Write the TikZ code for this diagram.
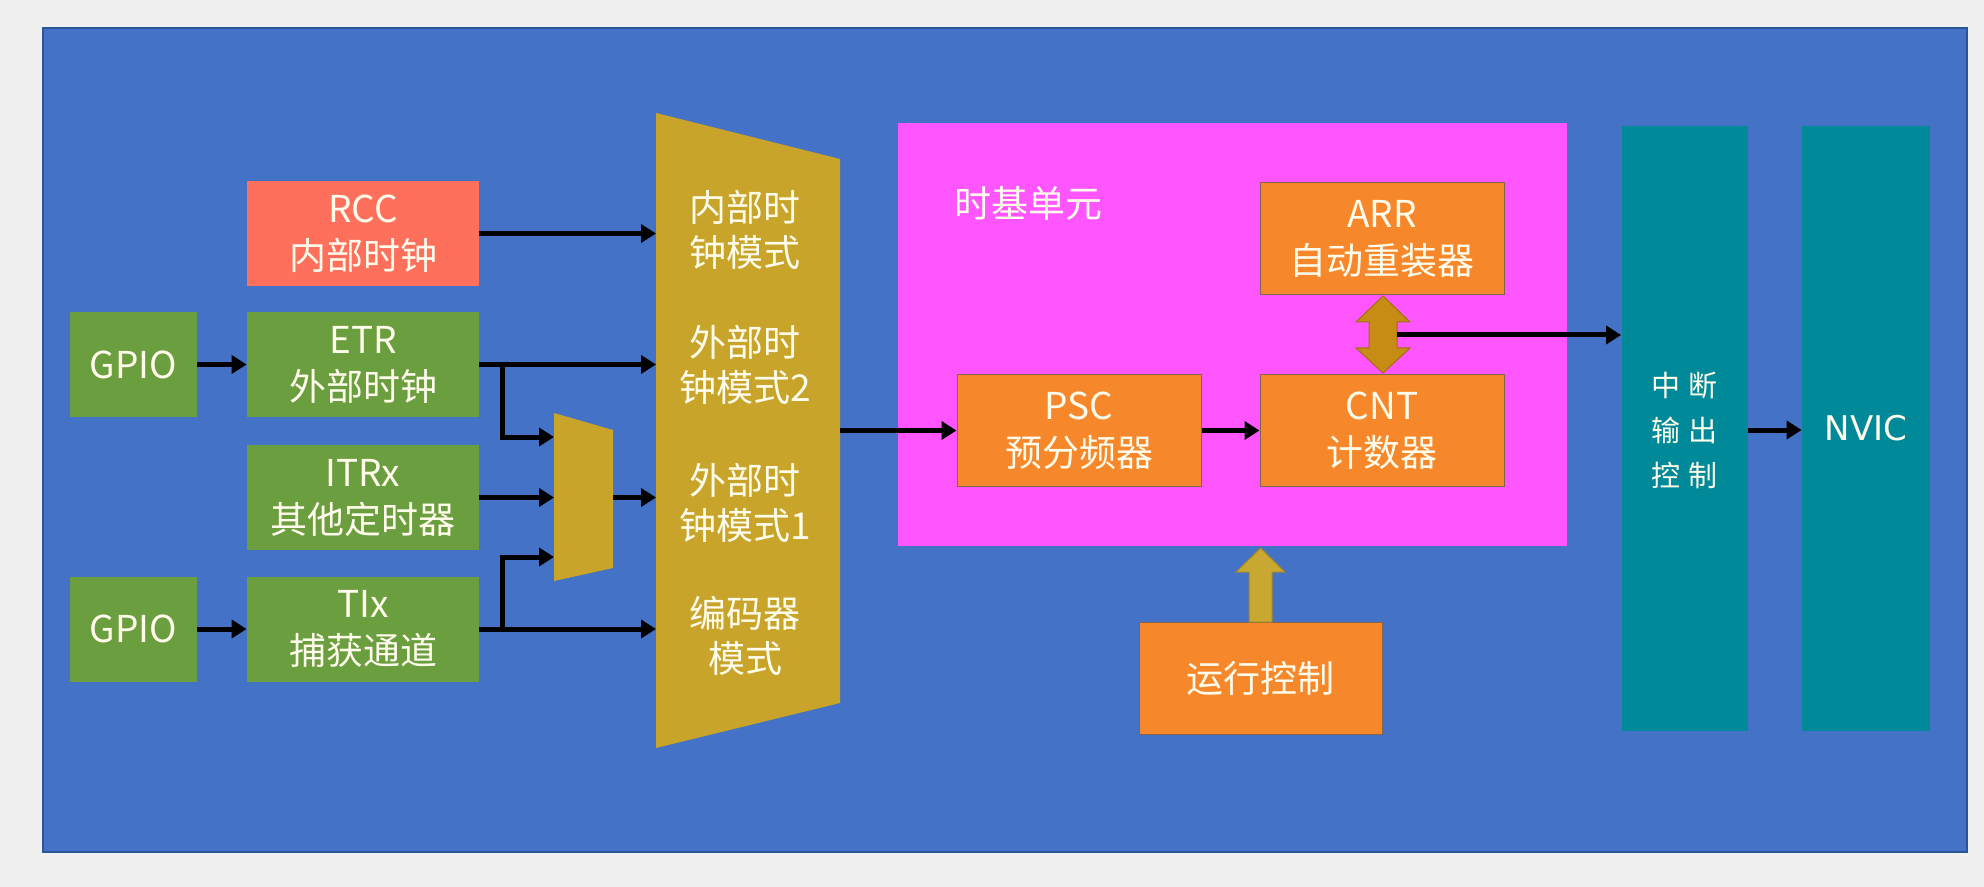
\documentclass[tikz,border=0pt]{standalone}
\usepackage{fontspec}
\setmainfont{Noto Sans CJK SC}
\newfontfamily\nvicfont{DejaVu Sans}
\usetikzlibrary{arrows.meta}
\definecolor{pagegray}{RGB}{240,240,240}
\definecolor{bgblue}{RGB}{67,114,198}
\definecolor{bgedge}{RGB}{45,85,150}
\definecolor{rccred}{RGB}{255,112,92}
\definecolor{boxgreen}{RGB}{106,158,63}
\definecolor{muxgold}{RGB}{200,164,42}
\definecolor{magbox}{RGB}{255,85,255}
\definecolor{orangebox}{RGB}{246,135,42}
\definecolor{orangeedge}{RGB}{130,100,70}
\definecolor{tealbox}{RGB}{0,137,152}
\definecolor{darkgold}{RGB}{199,140,20}
\definecolor{upgold}{RGB}{201,168,50}
\definecolor{txt}{RGB}{255,252,236}
\tikzset{
  basebox/.style={rectangle, inner sep=0pt, align=center, text=txt,
    font=\fontsize{18.5pt}{23.5pt}\selectfont},
  widebox/.style={basebox, minimum width=116pt, minimum height=52.5pt},
  gpiobox/.style={basebox, fill=boxgreen, minimum width=63.5pt, minimum height=52.5pt},
  greenbox/.style={widebox, fill=boxgreen},
  redbox/.style={widebox, fill=rccred},
  orbox/.style={basebox, fill=orangebox, draw=orangeedge, line width=0.5pt,
    minimum width=122pt, minimum height=56pt},
  tealcol/.style={basebox, fill=tealbox, minimum width=63pt, minimum height=302.5pt},
  muxtext/.style={align=center, text=txt, inner sep=0pt,
    font=\fontsize{18.5pt}{22.5pt}\selectfont},
  arr/.style={draw=black, line width=2.5pt, -{Triangle[length=7.5pt,width=9pt]}},
  plainline/.style={draw=black, line width=2.5pt},
}
\begin{document}
\begin{tikzpicture}[x=0.5pt,y=-0.5pt]
\useasboundingbox (0,0) rectangle (1984,887);
\fill[pagegray] (0,0) rectangle (1984,887);
\filldraw[fill=bgblue, draw=bgedge, line width=0.8pt] (43,28) rectangle (1967,852);

% left boxes
\node[redbox] (rcc) at (363,233.5) {RCC\\内部时钟};
\node[greenbox] (etr) at (363,364.5) {ETR\\外部时钟};
\node[greenbox] (itrx) at (363,497.5) {ITRx\\其他定时器};
\node[greenbox] (tix) at (363,629) {TIx\\捕获通道};
\node[gpiobox] (gpioa) at (133.5,364.5) {GPIO};
\node[gpiobox] (gpiob) at (133.5,629) {GPIO};

% small mux
\fill[muxgold] (554,413) -- (613,430) -- (613,568) -- (554,581) -- cycle;
\coordinate (sm1) at (554,437);
\coordinate (sm2) at (554,497.5);
\coordinate (sm3) at (554,557);
\coordinate (smout) at (613,497.5);

% big mux
\fill[muxgold] (656,113) -- (840,159) -- (840,703) -- (656,748) -- cycle;
\coordinate (bm1) at (656,233.5);
\coordinate (bm2) at (656,364.5);
\coordinate (bm3) at (656,497.5);
\coordinate (bm4) at (656,629);
\coordinate (bmout) at (840,430.5);
\node[muxtext] (m1) at (745,229.5) {内部时\\钟模式};
\node[muxtext] (m2) at (745,364.5) {外部时\\钟模式2};
\node[muxtext] (m3) at (745,502.5) {外部时\\钟模式1};
\node[muxtext] (m4) at (745,635.5) {编码器\\模式};

% time base unit
\node[basebox, fill=magbox, minimum width=334.5pt, minimum height=211.5pt] (tbu) at (1232.5,334.5) {};
\node[anchor=west, text=txt, inner sep=0pt, font=\fontsize{18.5pt}{22pt}\selectfont] (tbul) at (954,203) {时基单元};
\node[orbox] (arr) at (1382,239) {ARR\\自动重装器};
\node[orbox] (psc) at (1079,430.5) {PSC\\预分频器};
\node[orbox] (cnt) at (1382,430.5) {CNT\\计数器};
\node[orbox, minimum width=121.5pt] (run) at (1260.5,678) {运行控制};

% right columns
\node[tealcol] (intc) at (1684.5,428.5) {};
\node[text=txt, align=center, inner sep=0pt, font=\fontsize{14.5pt}{22.5pt}\selectfont] (intl) at (1684,430) {中\hspace{4pt}断\\输\hspace{4pt}出\\控\hspace{4pt}制};
\node[tealcol, minimum width=64pt, font=\nvicfont\fontsize{17pt}{20pt}\selectfont] (nvic) at (1866,428.5) {NVIC};

% connectors
\draw[arr] (gpioa.east) -- (etr.west);
\draw[arr] (gpiob.east) -- (tix.west);
\draw[arr] (rcc.east) -- (bm1);
\draw[arr] (etr.east) -- (bm2);
\coordinate (j1) at (502,364.5);
\draw[arr] (j1) |- (sm1);
\draw[arr] (itrx.east) -- (sm2);
\draw[arr] (tix.east) -- (bm4);
\coordinate (j2) at (502,629);
\draw[arr] (j2) |- (sm3);
\draw[arr] (smout) -- (bm3);
\draw[arr] (bmout) -- (psc.west);
\draw[arr] (psc.east) -- (cnt.west);

% double arrow ARR <-> CNT
\filldraw[fill=darkgold, draw=darkgold!80!black, line width=0.5pt]
  (1383,296) -- (1410,322) -- (1397,322) -- (1397,348) -- (1410,348) -- (1383,373)
  -- (1356,348) -- (1369,348) -- (1369,322) -- (1356,322) -- cycle;
\coordinate (da) at (1397,335);
\draw[arr] (da) -- (da -| intc.west);
\draw[arr] (intc.east |- 0,430) -- (nvic.west |- 0,430);

% run control up arrow
\filldraw[fill=upgold, draw=upgold!80!black, line width=0.5pt]
  (1249,622) -- (1249,572) -- (1236,572) -- (1260.5,548) -- (1285,572) -- (1272,572) -- (1272,622) -- cycle;
\end{tikzpicture}
\end{document}
